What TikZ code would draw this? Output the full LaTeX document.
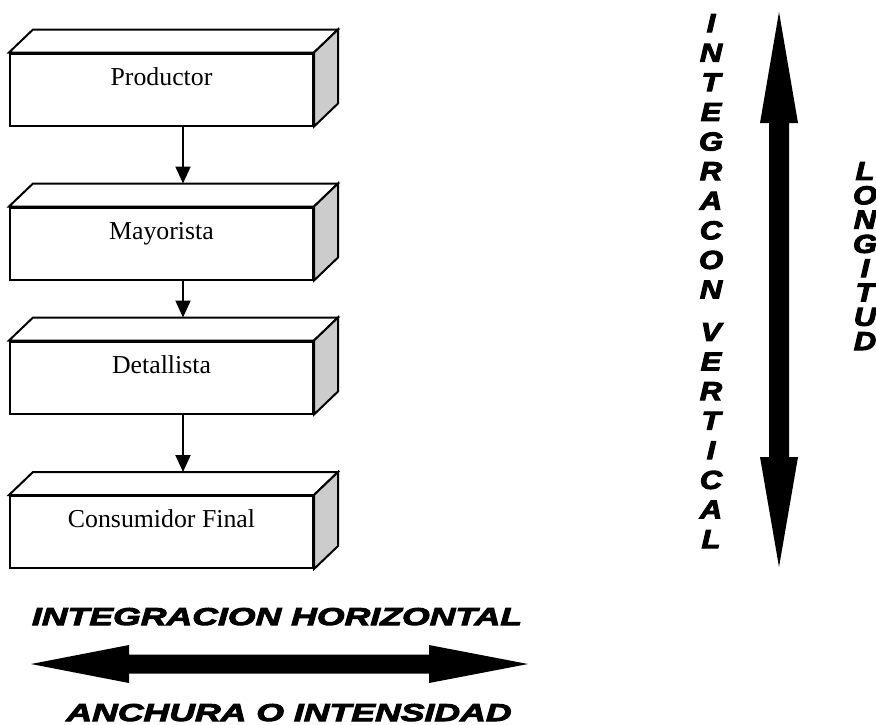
\documentclass[tikz,border=0pt]{standalone}
\usepackage{fontspec}
\setmainfont{Liberation Serif}
\newfontfamily\heavyfont{Liberation Sans}[FakeStretch=1.46,FakeBold=4]
\newfontfamily\columnfont{Liberation Sans}[FakeStretch=1.2,FakeBold=4]
\usepackage{tikz}
\usetikzlibrary{arrows.meta,calc}

\tikzset{
  etapa/.style={draw,line width=1pt,fill=white,minimum width=151.5pt,inner xsep=0pt,inner ysep=0pt,
    text height=15.75pt,text depth=20.25pt,font=\fontsize{12.9}{15}\selectfont},
  cara/.style={draw,line width=1pt,line join=miter},
  flecha/.style={line width=1pt,-{Triangle[length=8.5pt,width=7.5pt]}},
  rotulo/.style={inner sep=0pt,anchor=base,font=\heavyfont\bfseries\itshape\fontsize{12.2}{14}\selectfont},
  columna/.style={inner sep=0pt,anchor=base,align=center,font=\columnfont\bfseries\itshape\fontsize{12.9}{#1}\selectfont}
}

\begin{document}
\begin{tikzpicture}[x=0.5pt,y=-0.5pt]
        \useasboundingbox (0,0) rectangle (876,724);

        \node[etapa] (prod) at (161.5,89.5) {Productor};
        \node[etapa] (may) at (161.5,243.5) {Mayorista};
        \node[etapa] (det) at (161.5,377.5) {Detallista};
        \node[etapa] (cons) at (161.5,532) {Consumidor Final};

        \foreach \n in {prod,may,det,cons}{
            \draw[cara,fill=white] (\n.north west) -- ++(12pt,11.5pt) -- ([shift={(12pt,11.5pt)}]\n.north east) -- (\n.north east) -- cycle;
            \draw[cara,fill=gray!40] (\n.north east) -- ([shift={(12pt,11.5pt)}]\n.north east) -- ([shift={(12pt,11.5pt)}]\n.south east) -- (\n.south east) -- cycle;
        }

        \draw[flecha] ([xshift=10.75pt]prod.south) -- ([shift={(10.75pt,11.5pt)}]may.north);
        \draw[flecha] ([xshift=10.75pt]may.south) -- ([shift={(10.75pt,11.5pt)}]det.north);
        \draw[flecha] ([xshift=10.75pt]det.south) -- ([shift={(10.75pt,11.5pt)}]cons.north);

        \fill (779,12) -- (798,123) -- (789,123) -- (789,457) -- (798,457) -- (779,567) -- (760,457) -- (769,457) -- (769,123) -- (760,123) -- cycle;
        \fill (31,664) -- (129,645) -- (129,654.5) -- (429,654.5) -- (429,645) -- (528,664) -- (429,683) -- (429,673.5) -- (129,673.5) -- (129,683) -- cycle;

        \node[columna=14.8] (intv) at (711,548) {I\\N\\T\\E\\G\\R\\A\\C\\O\\N\\[6.4pt]V\\E\\R\\T\\I\\C\\A\\L};
        \node[columna=12.15] (longitud) at (865,350) {L\\O\\N\\G\\I\\T\\U\\D};

        \node[rotulo] (inth) at (277,625) {INTEGRACION HORIZONTAL};
        \node[rotulo] (anchura) at (289,721) {ANCHURA O INTENSIDAD};
    \end{tikzpicture}
\end{document}
